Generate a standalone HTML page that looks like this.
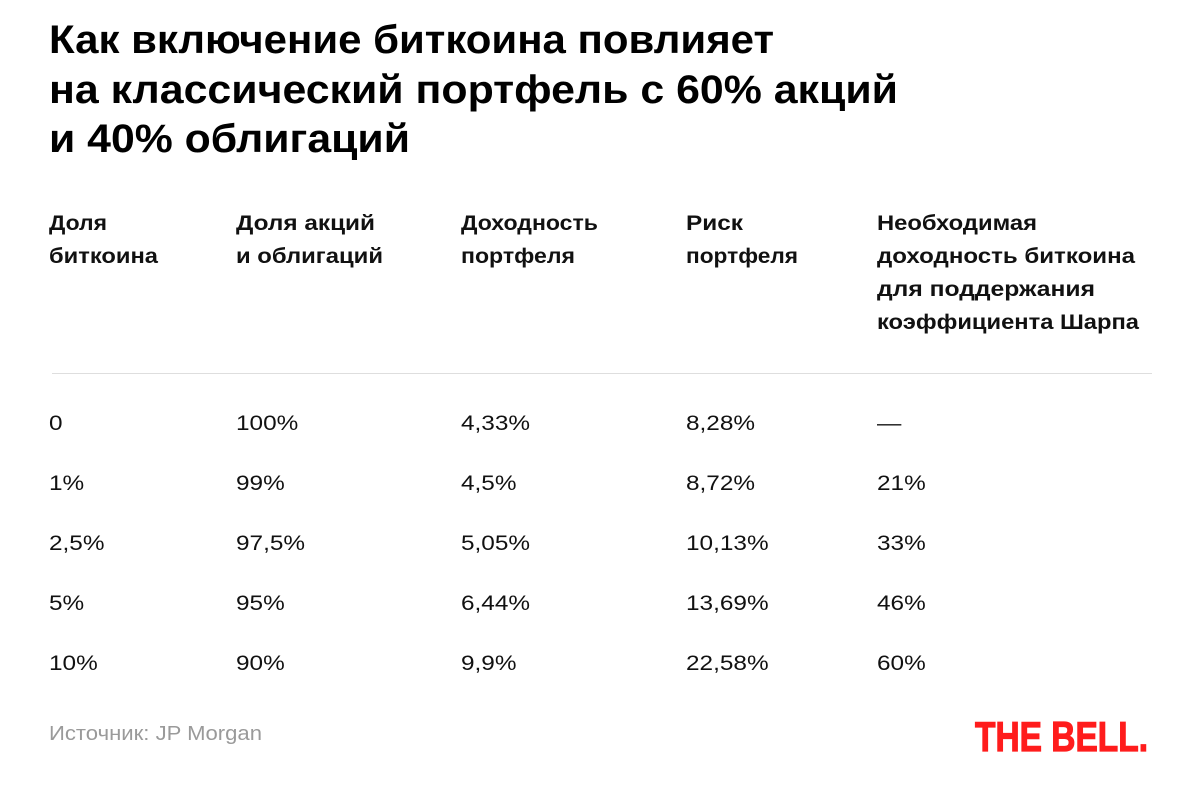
<!DOCTYPE html>
<html>
<head>
<meta charset="utf-8">
<style>
  html,body{margin:0;padding:0;background:#fff;}
  svg{display:block;}
  .t{font-family:"Liberation Sans","DejaVu Sans",sans-serif;font-weight:700;font-size:40px;fill:#000;}
  .h{font-family:"Liberation Sans","DejaVu Sans",sans-serif;font-weight:700;font-size:21px;fill:#111;}
  .d{font-family:"Liberation Sans","DejaVu Sans",sans-serif;font-weight:400;font-size:21px;fill:#111;}
  .f{font-family:"Liberation Sans","DejaVu Sans",sans-serif;font-weight:400;font-size:20px;fill:#9a9a9a;}
  .logo{font-family:"Liberation Sans","DejaVu Sans",sans-serif;font-weight:700;font-size:42px;fill:#ff1c1c;stroke:#ff1c1c;stroke-width:1.2px;}
</style>
</head>
<body>
<svg width="1200" height="811" viewBox="0 0 1200 811" xmlns="http://www.w3.org/2000/svg">
  <rect width="1200" height="811" fill="#fff"/>

  <!-- Title -->
  <text class="t" x="49" y="53" textLength="725" lengthAdjust="spacingAndGlyphs">Как включение биткоина повлияет</text>
  <text class="t" x="49" y="103" textLength="849" lengthAdjust="spacingAndGlyphs">на классический портфель с 60% акций</text>
  <text class="t" x="49" y="152" textLength="361" lengthAdjust="spacingAndGlyphs">и 40% облигаций</text>

  <!-- Header -->
  <text class="h" x="49" y="230" textLength="58" lengthAdjust="spacingAndGlyphs">Доля</text>
  <text class="h" x="49" y="263" textLength="109" lengthAdjust="spacingAndGlyphs">биткоина</text>

  <text class="h" x="236" y="230" textLength="139" lengthAdjust="spacingAndGlyphs">Доля акций</text>
  <text class="h" x="236" y="263" textLength="147" lengthAdjust="spacingAndGlyphs">и облигаций</text>

  <text class="h" x="461" y="230" textLength="137" lengthAdjust="spacingAndGlyphs">Доходность</text>
  <text class="h" x="461" y="263" textLength="114" lengthAdjust="spacingAndGlyphs">портфеля</text>

  <text class="h" x="686" y="230" textLength="57" lengthAdjust="spacingAndGlyphs">Риск</text>
  <text class="h" x="686" y="263" textLength="112" lengthAdjust="spacingAndGlyphs">портфеля</text>

  <text class="h" x="877" y="230" textLength="160" lengthAdjust="spacingAndGlyphs">Необходимая</text>
  <text class="h" x="877" y="263" textLength="258" lengthAdjust="spacingAndGlyphs">доходность биткоина</text>
  <text class="h" x="877" y="296" textLength="218" lengthAdjust="spacingAndGlyphs">для поддержания</text>
  <text class="h" x="877" y="329" textLength="262" lengthAdjust="spacingAndGlyphs">коэффициента Шарпа</text>

  <!-- Separator -->
  <rect x="52" y="373" width="1100" height="1" fill="#dedede"/>

  <!-- Data columns -->
  <g transform="translate(49,0) scale(1.16,1)">
    <text class="d" x="0" y="430">0</text>
    <text class="d" x="0" y="490">1%</text>
    <text class="d" x="0" y="550">2,5%</text>
    <text class="d" x="0" y="610">5%</text>
    <text class="d" x="0" y="670">10%</text>
  </g>
  <g transform="translate(236,0) scale(1.16,1)">
    <text class="d" x="0" y="430">100%</text>
    <text class="d" x="0" y="490">99%</text>
    <text class="d" x="0" y="550">97,5%</text>
    <text class="d" x="0" y="610">95%</text>
    <text class="d" x="0" y="670">90%</text>
  </g>
  <g transform="translate(461,0) scale(1.16,1)">
    <text class="d" x="0" y="430">4,33%</text>
    <text class="d" x="0" y="490">4,5%</text>
    <text class="d" x="0" y="550">5,05%</text>
    <text class="d" x="0" y="610">6,44%</text>
    <text class="d" x="0" y="670">9,9%</text>
  </g>
  <g transform="translate(686,0) scale(1.16,1)">
    <text class="d" x="0" y="430">8,28%</text>
    <text class="d" x="0" y="490">8,72%</text>
    <text class="d" x="0" y="550">10,13%</text>
    <text class="d" x="0" y="610">13,69%</text>
    <text class="d" x="0" y="670">22,58%</text>
  </g>
  <g transform="translate(877,0) scale(1.16,1)">
    <text class="d" x="0" y="430">—</text>
    <text class="d" x="0" y="490">21%</text>
    <text class="d" x="0" y="550">33%</text>
    <text class="d" x="0" y="610">46%</text>
    <text class="d" x="0" y="670">60%</text>
  </g>

  <!-- Footer -->
  <text class="f" x="49" y="740" textLength="213" lengthAdjust="spacingAndGlyphs">Источник: JP Morgan</text>
  <text class="logo" x="975" y="751" textLength="173" lengthAdjust="spacingAndGlyphs">THE BELL.</text>
</svg>
</body>
</html>
